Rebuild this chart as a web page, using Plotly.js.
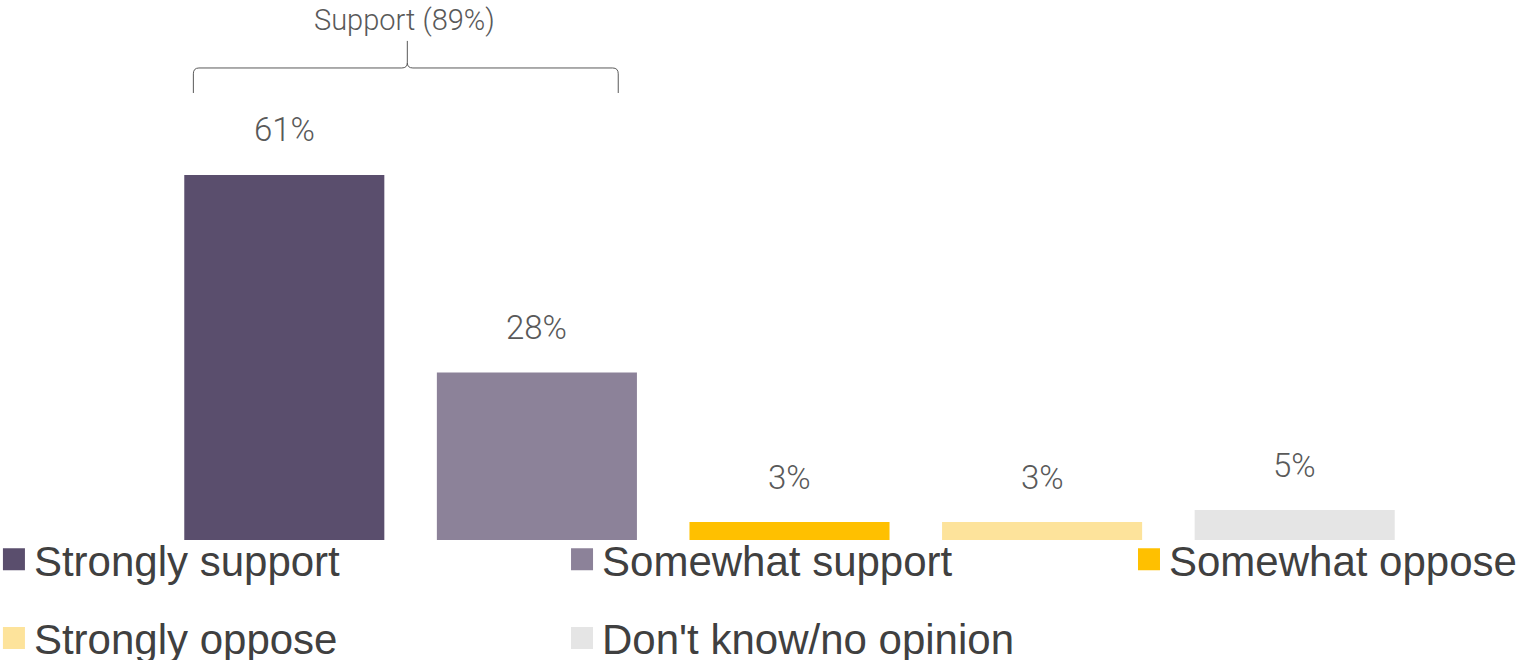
<!DOCTYPE html>
<html>
<head>
<meta charset="utf-8">
<script src="https://cdn.plot.ly/plotly-3.0.1.min.js"></script>
<style>html,body{margin:0;padding:0;background:#fff;}</style>
</head>
<body>
<div id="chart" style="width:1523px;height:660px;"></div>
<script>
const categories = ["Strongly support", "Somewhat support", "Somewhat oppose", "Strongly oppose", "Don't know/no opinion"];
const values = [61, 28, 3, 3, 5];
const colors = ["#5A4E6D", "#8C8299", "#FFC000", "#FDE39B", "#E5E5E5"];
const groupLabel = "Support";
const groupMembers = [0, 1];

const legendNames = ["legend", "legend2", "legend3", "legend4", "legend5"];
const traces = categories.map((c, i) => ({
  type: "bar",
  x: [c],
  y: [values[i]],
  name: c,
  marker: {color: colors[i]},
  legend: legendNames[i],
  hoverinfo: "x+y"
}));

const labelFont = {family: "Roboto, 'Liberation Sans', Arial, sans-serif", size: 33, color: "#595959", weight: 300};
const annotations = categories.map((c, i) => ({
  x: c, y: values[i], xref: "x", yref: "y",
  text: values[i] + "%", showarrow: false,
  yanchor: "middle", yshift: 45,
  font: labelFont
}));

const groupTotal = groupMembers.reduce((s, i) => s + values[i], 0);
// brace geometry (category-index units on x, data units on y)
const bx0 = groupMembers[0] - 0.36, bx1 = groupMembers[groupMembers.length - 1] + 0.322;
const btip = 0.487, bdx = 0.022;
const byBot = 74.7, byMid = 78.88, byCurve = 79.75, byTop = 83.4, byCorner = 77.9;
const bracePath =
  `M${bx0},${byBot} L${bx0},${byCorner} Q${bx0},${byMid} ${bx0 + bdx},${byMid} ` +
  `L${btip - bdx},${byMid} Q${btip},${byMid} ${btip},${byCurve} L${btip},${byTop} ` +
  `M${btip},${byCurve} Q${btip},${byMid} ${btip + bdx},${byMid} ` +
  `L${bx1 - bdx},${byMid} Q${bx1},${byMid} ${bx1},${byCorner} L${bx1},${byBot}`;

annotations.push({
  x: btip - 0.01, y: 86.9, xref: "x", yref: "y",
  text: groupLabel + " (" + groupTotal + "%)", showarrow: false,
  yanchor: "middle", xanchor: "center",
  font: {family: "Roboto, 'Liberation Sans', Arial, sans-serif", size: 29, color: "#595959", weight: 300}
});

const legFont = {family: "'Liberation Sans', Arial, sans-serif", size: 42, color: "#404040"};
function leg(x, y) {
  return {x: x, y: y, xanchor: "left", yanchor: "middle", orientation: "v",
          bgcolor: "rgba(0,0,0,0)", borderwidth: 0, font: legFont, itemclick: false};
}

const layout = {
  width: 1523, height: 660,
  margin: {l: 158, r: 102, t: 0, b: 120, autoexpand: false},
  paper_bgcolor: "#ffffff", plot_bgcolor: "#ffffff",
  barmode: "overlay", bargap: 0.208,
  showlegend: true,
  xaxis: {visible: false, type: "category", categoryorder: "array", categoryarray: categories},
  yaxis: {visible: false, range: [0, 90.24]},
  legend: leg(-0.1299, -0.036),
  legend2: leg(0.3199, -0.036),
  legend3: leg(0.7688, -0.036),
  legend4: leg(-0.1299, -0.182),
  legend5: leg(0.3199, -0.182),
  shapes: [{type: "path", xref: "x", yref: "y", path: bracePath, line: {color: "#595959", width: 1}}],
  annotations: annotations
};

Plotly.newPlot("chart", traces, layout, {displayModeBar: false, staticPlot: true}).then(() => {
  document.querySelectorAll(".legendpoints path").forEach(p => p.setAttribute("d", "M11,11H-11V-11H11Z"));
});
</script>
</body>
</html>
